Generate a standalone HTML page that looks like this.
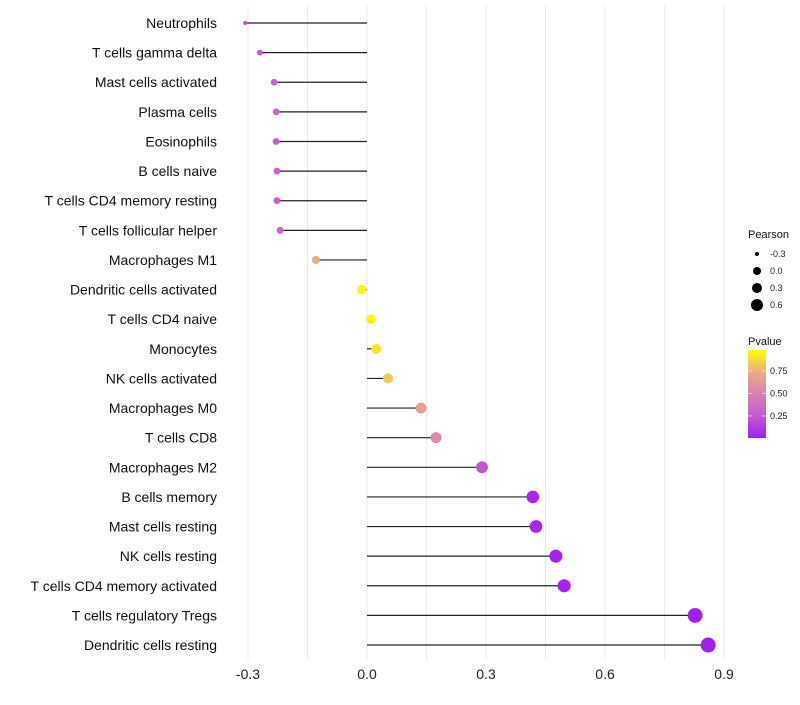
<!DOCTYPE html>
<html><head><meta charset="utf-8"><style>
body{margin:0;background:#fff;font-family:"Liberation Sans",sans-serif}
svg text{font-family:"Liberation Sans",sans-serif}
</style></head><body>
<svg id="c" width="800" height="700"></svg>
<script>
const categories=["Neutrophils","T cells gamma delta","Mast cells activated","Plasma cells","Eosinophils","B cells naive","T cells CD4 memory resting","T cells follicular helper","Macrophages M1","Dendritic cells activated","T cells CD4 naive","Monocytes","NK cells activated","Macrophages M0","T cells CD8","Macrophages M2","B cells memory","Mast cells resting","NK cells resting","T cells CD4 memory activated","T cells regulatory  Tregs","Dendritic cells resting"];
const pearson=[-0.307,-0.27,-0.234,-0.229,-0.229,-0.227,-0.227,-0.219,-0.129,-0.013,0.01,0.023,0.053,0.136,0.174,0.29,0.418,0.426,0.476,0.497,0.827,0.86];
const pvalue=[0.2,0.27,0.3,0.3,0.3,0.31,0.31,0.33,0.75,0.97,0.96,0.92,0.83,0.68,0.55,0.22,0.03,0.03,0.01,0.01,0.001,0.001];
const xTicks=[-0.3,0,0.3,0.6,0.9];
const xTickLabels=["-0.3","0.0","0.3","0.6","0.9"];
const sizeLegend=[-0.3,0,0.3,0.6];
const sizeLegendLabels=["-0.3","0.0","0.3","0.6"];
const pLegend=[0.25,0.5,0.75];
const pLegendLabels=["0.25","0.50","0.75"];

const NS="http://www.w3.org/2000/svg";
const svg=document.getElementById('c');
const x=v=>367+v*396.7;
const y=i=>23+i*29.62;
const r=v=>2+Math.sqrt(Math.max(0,(v+0.307)/1.167))*5.5;
const stops=[[0,[163,31,240]],[0.25,[196,90,210]],[0.5,[216,128,180]],[0.75,[236,172,130]],[1,[255,255,0]]];
function col(p){for(let k=1;k<stops.length;k++){if(p<=stops[k][0]){const a=stops[k-1],b=stops[k],t=(p-a[0])/(b[0]-a[0]);return 'rgb('+a[1].map((c,j)=>Math.round(c+(b[1][j]-c)*t)).join(',')+')';}}return 'rgb(255,255,0)';}
function el(tag,attrs,parent){const e=document.createElementNS(NS,tag);for(const k in attrs)e.setAttribute(k,attrs[k]);(parent||svg).appendChild(e);return e;}

const grid=el('g',{});


for(let v=-0.3;v<=0.91;v+=0.15){const l=el('line',{x1:x(v),x2:x(v),y1:5,y2:660,stroke:'#ebebeb','stroke-width':1},grid);

}

const xa=el('g',{});


xTicks.forEach((v,i)=>{const t=el('text',{x:x(v),y:679,'text-anchor':'middle','font-size':14,fill:'#222'},xa);t.textContent=xTickLabels[i];

});

categories.forEach((c,i)=>{
 const t=el('text',{x:217,y:y(i)+5,'text-anchor':'end','font-size':14,fill:'#111'});t.textContent=c;
 
 
 const s=el('line',{x1:x(0),x2:x(pearson[i]),y1:y(i),y2:y(i),stroke:'#222','stroke-width':1.2});
 
 
 const p=el('circle',{cx:x(pearson[i]),cy:y(i),r:r(pearson[i]),fill:col(pvalue[i])});
 
 
});

const lg=el('g',{});


let tt=el('text',{x:748,y:238,'font-size':11,fill:'#111'},lg);tt.textContent='Pearson';
const lr=[2,4,5,6];
sizeLegend.forEach((v,i)=>{const cy=254+i*17;el('circle',{cx:757,cy:cy,r:lr[i],fill:'#000'},lg);
const t=el('text',{x:770,y:cy+3,'font-size':9,fill:'#222'},lg);t.textContent=sizeLegendLabels[i];});

const pg=el('g',{});


tt=el('text',{x:748,y:345,'font-size':11,fill:'#111'},pg);tt.textContent='Pvalue';
const defs=el('defs',{});const gr=el('linearGradient',{id:'pg',x1:0,y1:1,x2:0,y2:0},defs);
stops.forEach(s=>el('stop',{offset:s[0],'stop-color':'rgb('+s[1].join(',')+')'},gr));
el('rect',{x:748,y:350,width:18,height:88,fill:'url(#pg)'},pg);
const py=p=>438-(p-0.005)/0.25*22.5;
pLegend.forEach((v,i)=>{el('line',{x1:748,x2:752,y1:py(v),y2:py(v),stroke:'#fff','stroke-opacity':0.6},pg);el('line',{x1:762,x2:766,y1:py(v),y2:py(v),stroke:'#fff','stroke-opacity':0.6},pg);
const t=el('text',{x:770,y:py(v)+3,'font-size':9,fill:'#222'},pg);t.textContent=pLegendLabels[i];});
</script>
</body></html>
